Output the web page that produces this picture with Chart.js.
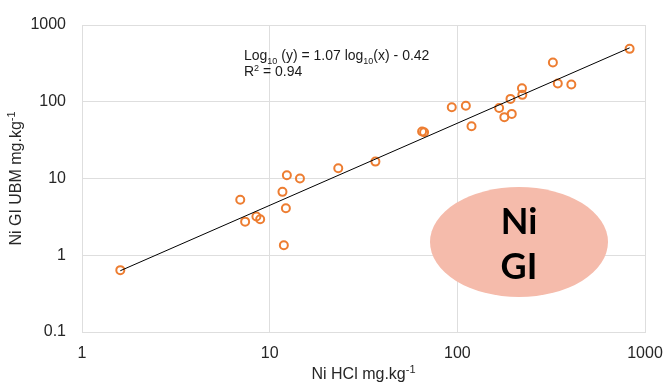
<!DOCTYPE html>
<html>
<head>
<meta charset="utf-8">
<script src="https://cdn.jsdelivr.net/npm/chart.js@4.4.1/dist/chart.umd.min.js"></script>
<style>
  html, body { margin: 0; padding: 0; background: #fff; }
</style>
</head>
<body>
<canvas id="niChart" width="665" height="384"></canvas>
<script>
// Ni extracted by HCl vs. Ni gastro-intestinal (UBM), mg/kg
const hclNi = [1.6, 6.97, 7.4, 8.5, 8.9, 11.7, 12.2, 11.9, 12.35, 14.5, 23.2, 36.6, 64.9, 66.5,
  93.4, 111, 119, 167, 178, 192, 195, 221, 222, 323, 343, 405, 828];
const ubmNi = [0.64, 5.3, 2.74, 3.2, 2.95, 6.7, 4.1, 1.35, 11.0, 10.0, 13.6, 16.6, 41, 40,
  85, 88.5, 48, 83, 63, 109, 69.5, 150, 123, 324, 173, 168, 489];
const xTicks = [1, 10, 100, 1000];
const yTicks = [0.1, 1, 10, 100, 1000];

// log10(y) = slope * log10(x) + intercept
const fitSlope = 1.07;
const fitIntercept = -0.42;
const fitR2 = 0.94;

const FONT = "'Liberation Sans', Arial, sans-serif";
const TEXT = "#262626";
const GRID = "#dedede";

const points = hclNi.map((x, i) => ({ x: x, y: ubmNi[i] }));
const xMin = Math.min(...hclNi);
const xMax = Math.max(...hclNi);
const fitLine = [xMin, xMax].map(x => ({
  x: x,
  y: Math.pow(10, fitSlope * Math.log10(x) + fitIntercept)
}));

// draws a run of text pieces, some of them sub/superscript
function drawRich(ctx, parts, x, y, size, align) {
  const small = Math.round(size * 0.66);
  let width = 0;
  parts.forEach(p => {
    ctx.font = (p[1] ? small : size) + "px " + FONT;
    width += ctx.measureText(p[0]).width;
  });
  let cx = align === "center" ? x - width / 2 : x;
  ctx.textAlign = "left";
  ctx.textBaseline = "alphabetic";
  parts.forEach(p => {
    const sz = p[1] ? small : size;
    ctx.font = sz + "px " + FONT;
    let dy = 0;
    if (p[1] === "sub") dy = size * 0.25;
    if (p[1] === "sup") dy = -size * 0.36;
    ctx.fillText(p[0], cx, y + dy);
    cx += ctx.measureText(p[0]).width;
  });
}

const extras = {
  id: "extras",
  beforeDatasetsDraw(chart) {
    const ctx = chart.ctx;
    // "Ni GI" badge
    ctx.save();
    ctx.fillStyle = "#f5bbab";
    ctx.beginPath();
    ctx.ellipse(519, 242, 89, 55, 0, 0, Math.PI * 2);
    ctx.fill();
    ctx.fillStyle = "#000";
    ctx.font = "bold 36px Lato, 'DejaVu Sans', sans-serif";
    ctx.textAlign = "center";
    ctx.textBaseline = "middle";
    ctx.fillText("Ni", 519, 222);
    ctx.fillText("GI", 519, 267);
    ctx.restore();
  },
  afterDraw(chart) {
    const ctx = chart.ctx;
    const area = chart.chartArea;
    ctx.save();
    ctx.fillStyle = "#1a1a1a";
    drawRich(ctx, [["Log"], ["10", "sub"], [" (y) = " + fitSlope.toFixed(2) + " log"], ["10", "sub"],
      ["(x) - " + Math.abs(fitIntercept).toFixed(2)]], 244, 60, 14, "left");
    drawRich(ctx, [["R"], ["2", "sup"], [" = " + fitR2.toFixed(2)]], 244, 76, 14, "left");

    ctx.fillStyle = TEXT;
    drawRich(ctx, [["Ni HCl mg.kg"], ["-1", "sup"]], (area.left + area.right) / 2, 379, 16, "center");
    ctx.translate(21, (area.top + area.bottom) / 2);
    ctx.rotate(-Math.PI / 2);
    drawRich(ctx, [["Ni GI UBM mg.kg"], ["-1", "sup"]], 0, 0, 16, "center");
    ctx.restore();
  }
};

const ctx = document.getElementById("niChart");

new Chart(ctx, {
  type: "scatter",
  data: {
    datasets: [
      {
        type: "line",
        label: "fit",
        data: fitLine,
        borderColor: "#000",
        borderWidth: 1,
        pointRadius: 0,
        fill: false
      },
      {
        label: "Ni",
        data: points,
        pointStyle: "circle",
        pointRadius: 4,
        pointBorderWidth: 2,
        borderColor: "#ed7d31",
        backgroundColor: "rgba(255,255,255,0)"
      }
    ]
  },
  options: {
    responsive: false,
    animation: false,
    devicePixelRatio: 1,
    layout: { padding: { top: 25, right: 20, left: 0, bottom: 0 } },
    plugins: {
      legend: { display: false },
      tooltip: { enabled: false }
    },
    scales: {
      x: {
        type: "logarithmic",
        min: 1,
        max: 1000,
        afterBuildTicks: s => { s.ticks = xTicks.map(v => ({ value: v })); },
        afterFit: s => {
          s.height = 52;
          s.paddingLeft = 0;
          s.paddingRight = 0;
        },
        ticks: {
          callback: v => String(v),
          autoSkip: false,
          maxRotation: 0,
          padding: 12,
          color: TEXT,
          font: { family: FONT, size: 16 }
        },
        grid: { color: GRID, drawTicks: false },
        border: { color: GRID }
      },
      y: {
        type: "logarithmic",
        min: 0.1,
        max: 1000,
        afterBuildTicks: s => { s.ticks = yTicks.map(v => ({ value: v })); },
        afterFit: s => {
          s.width = 82;
          s.paddingTop = 0;
          s.paddingBottom = 0;
        },
        ticks: {
          callback: v => String(v),
          autoSkip: false,
          padding: 16,
          color: TEXT,
          font: { family: FONT, size: 16 }
        },
        grid: { color: GRID, drawTicks: false },
        border: { color: GRID }
      }
    }
  },
  plugins: [extras]
});
</script>
</body>
</html>
